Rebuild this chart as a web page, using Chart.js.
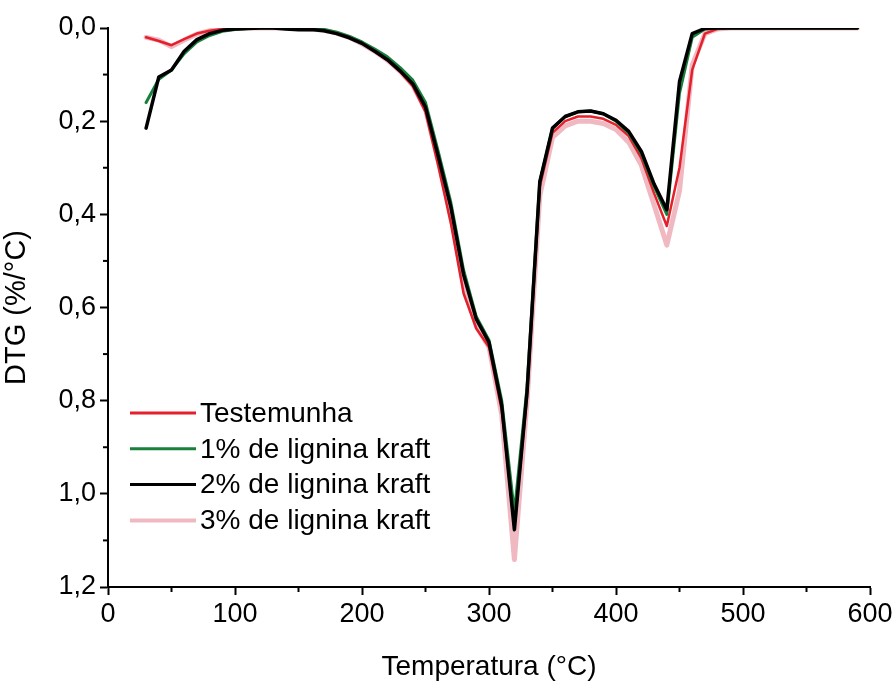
<!DOCTYPE html>
<html>
<head>
<meta charset="utf-8">
<script src="https://cdn.jsdelivr.net/npm/chart.js@4.4.0/dist/chart.umd.min.js"></script>
<style>
  html, body { margin: 0; padding: 0; background: #fff; }
  #wrap { width: 896px; height: 684px; position: relative; }
</style>
</head>
<body>
<div id="wrap"><canvas id="dtgChart" width="896" height="684"></canvas></div>
<script>
// temperatures (°C)
var temps = [30, 40, 50, 60, 70, 80, 90, 100, 110, 120, 130, 140, 150, 160, 170, 180, 190, 200,
  210, 220, 230, 240, 250, 260, 270, 280, 290, 300, 310, 320, 330, 340, 350, 360, 370, 380, 390, 400,
  410, 420, 430, 440, 450, 460, 470, 480, 490, 500, 510, 520, 530, 540, 550, 560, 570, 580, 590];

var testemunha = [0.020, 0.028, 0.037, 0.024, 0.012, 0.006, 0.002, 0.001, 0, 0, 0, 0, 0.001, 0.002, 0.005, 0.011, 0.020, 0.033,
  0.050, 0.069, 0.094, 0.125, 0.180, 0.295, 0.420, 0.570, 0.645, 0.685, 0.820, 1.070, 0.790, 0.340, 0.225, 0.200, 0.190, 0.190, 0.195, 0.208,
  0.232, 0.280, 0.355, 0.425, 0.300, 0.090, 0.012, 0.002, 0, 0, 0, 0, 0, 0, 0, 0, 0, 0, 0];

var lignina1 = [0.160, 0.110, 0.090, 0.055, 0.030, 0.016, 0.007, 0.003, 0.001, 0, 0, 0, 0.001, 0.001, 0.003, 0.009, 0.018, 0.030,
  0.045, 0.062, 0.085, 0.112, 0.160, 0.265, 0.375, 0.520, 0.620, 0.670, 0.800, 1.040, 0.770, 0.330, 0.215, 0.190, 0.180, 0.178, 0.184, 0.200,
  0.225, 0.270, 0.340, 0.400, 0.140, 0.020, 0.002, 0, 0, 0, 0, 0, 0, 0, 0, 0, 0, 0, 0];

var lignina2 = [0.215, 0.105, 0.090, 0.050, 0.025, 0.012, 0.005, 0.002, 0.001, 0, 0, 0.002, 0.004, 0.003, 0.006, 0.012, 0.021, 0.033,
  0.050, 0.068, 0.092, 0.120, 0.170, 0.275, 0.385, 0.530, 0.625, 0.675, 0.810, 1.077, 0.780, 0.330, 0.215, 0.190, 0.180, 0.178, 0.184, 0.198,
  0.222, 0.265, 0.335, 0.390, 0.115, 0.012, 0.001, 0, 0, 0, 0, 0, 0, 0, 0, 0, 0, 0, 0];

var lignina3 = [0.020, 0.026, 0.040, 0.026, 0.013, 0.006, 0.002, 0.001, 0, 0, 0, 0, 0.001, 0.002, 0.005, 0.011, 0.020, 0.034,
  0.050, 0.069, 0.093, 0.123, 0.175, 0.285, 0.400, 0.550, 0.640, 0.685, 0.830, 1.141, 0.800, 0.360, 0.235, 0.210, 0.200, 0.200, 0.205, 0.218,
  0.245, 0.295, 0.380, 0.466, 0.350, 0.080, 0.012, 0.002, 0, 0, 0, 0, 0, 0, 0, 0, 0, 0, 0];

var seriesNames = ['Testemunha', '1% de lignina kraft', '2% de lignina kraft', '3% de lignina kraft'];
var seriesColors = ['#e3202b', '#17803b', '#000000', '#f0b9c2'];
var seriesWidths = [2.5, 3, 3.5, 5];
var seriesOrder = [2, 1, 0, 3];

var minorX = [50, 150, 250, 350, 450, 550];
var minorY = [0.1, 0.3, 0.5, 0.7, 0.9, 1.1];

var FONT = "'Liberation Sans', Arial, sans-serif";

function pts(arr) {
  return arr.map(function(v, i) { return { x: temps[i], y: v }; });
}

var allSeries = [testemunha, lignina1, lignina2, lignina3];
var datasets = allSeries.map(function(arr, i) {
  return {
    label: seriesNames[i],
    data: pts(arr),
    borderColor: seriesColors[i],
    backgroundColor: seriesColors[i],
    borderWidth: seriesWidths[i],
    pointRadius: 0,
    tension: 0,
    order: seriesOrder[i],
    borderJoinStyle: 'round',
    borderCapStyle: 'round'
  };
});

// minor ticks + legend inside the plot
var extras = {
  id: 'extras',
  afterDraw: function(chart) {
    var c = chart.ctx, xs = chart.scales.x, ys = chart.scales.y;
    c.save();
    c.strokeStyle = '#000';
    c.lineWidth = 2;
    minorX.forEach(function(v) {
      var px = xs.getPixelForValue(v);
      c.beginPath(); c.moveTo(px, xs.top); c.lineTo(px, xs.top + 5); c.stroke();
    });
    minorY.forEach(function(v) {
      var py = ys.getPixelForValue(v);
      c.beginPath(); c.moveTo(ys.right, py); c.lineTo(ys.right - 5, py); c.stroke();
    });

    var lx = chart.chartArea.left + 22, ly = 413;
    c.font = '28px ' + FONT;
    c.textBaseline = 'middle';
    c.fillStyle = '#000';
    seriesNames.forEach(function(name, i) {
      var y = ly + i * 35.8;
      c.strokeStyle = seriesColors[i];
      c.lineWidth = i === 3 ? 4 : 3;
      c.beginPath(); c.moveTo(lx, y); c.lineTo(lx + 66, y); c.stroke();
      c.fillText(name, lx + 70, y + 1);
    });
    c.restore();
  }
};

new Chart(document.getElementById('dtgChart'), {
  type: 'line',
  data: { datasets: datasets },
  options: {
    responsive: false,
    animation: false,
    layout: { padding: { left: 0, top: 28, right: 26, bottom: 0 } },
    plugins: {
      legend: { display: false },
      tooltip: { enabled: false }
    },
    scales: {
      x: {
        type: 'linear',
        min: 0,
        max: 600,
        afterFit: function(s) { s.height = 97; },
        ticks: {
          stepSize: 100,
          color: '#000',
          font: { family: FONT, size: 27 },
          padding: 3,
          maxRotation: 0
        },
        grid: { drawOnChartArea: false, drawTicks: true, tickLength: 8, tickWidth: 2, color: '#000' },
        border: { display: true, color: '#000', width: 2 },
        title: {
          display: true,
          text: 'Temperatura (°C)',
          color: '#000',
          font: { family: FONT, size: 28 },
          padding: { top: 8, bottom: 0 }
        }
      },
      y: {
        type: 'linear',
        min: 0,
        max: 1.2,
        reverse: true,
        afterFit: function(s) { s.width = 108; },
        ticks: {
          stepSize: 0.2,
          color: '#000',
          font: { family: FONT, size: 27 },
          padding: 4,
          callback: function(v) { return v.toFixed(1).replace('.', ','); }
        },
        grid: { drawOnChartArea: false, drawTicks: true, tickLength: 8, tickWidth: 2, color: '#000' },
        border: { display: true, color: '#000', width: 2 },
        title: {
          display: true,
          text: 'DTG (%/°C)',
          color: '#000',
          font: { family: FONT, size: 29 },
          padding: { top: 0, bottom: 4 }
        }
      }
    }
  },
  plugins: [extras]
});
</script>
</body>
</html>
